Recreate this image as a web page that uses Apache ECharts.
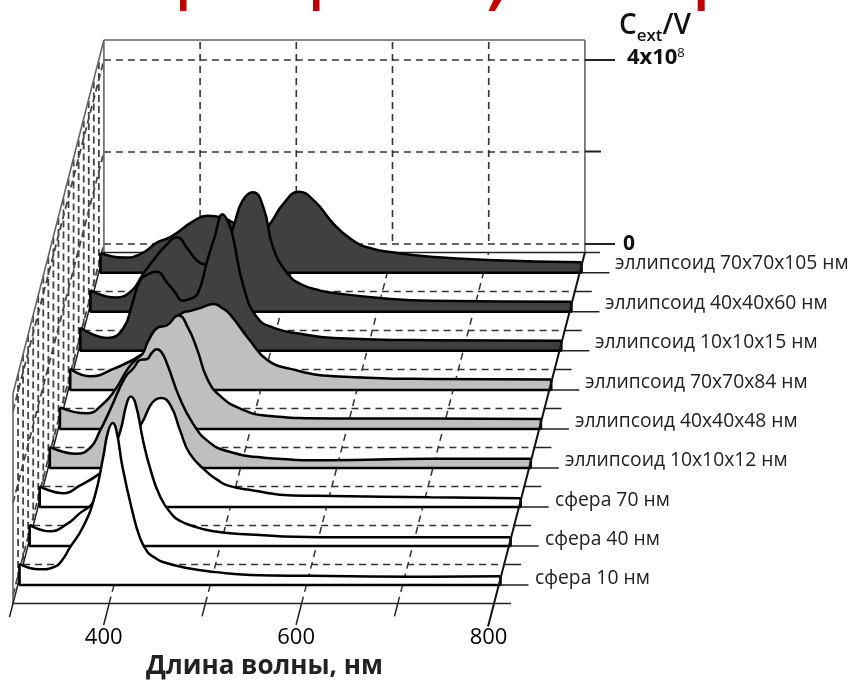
<!DOCTYPE html>
<html><head><meta charset="utf-8">
<style>html,body{margin:0;padding:0;background:#fff}#c{width:854px;height:685px}</style>
<script src="https://cdn.jsdelivr.net/npm/echarts@6/dist/echarts.min.js"></script>
</head><body><div id="c"></div>
<script>
// Data: wavelength (nm) and Cext/V (units of 1e8), front ribbon first
const ribbonNames = ['сфера 10 нм','сфера 40 нм','сфера 70 нм','эллипсоид 10x10x12 нм','эллипсоид 40x40x48 нм','эллипсоид 70x70x84 нм','эллипсоид 10x10x15 нм','эллипсоид 40x40x60 нм','эллипсоид 70x70x105 нм'];
const xTickLabels = [400,600,800];
const wlS10 = [300,321,337,345,352,366,378,387,392,397,401,407,417,425,433,441,449,474,505,540,602,727,800];
const valS10 = [.46,.34,.40,.56,.80,1.26,1.91,2.78,3.33,3.52,3.33,2.57,1.63,1.04,.72,.59,.50,.37,.28,.22,.20,.18,.19];
const wlS40 = [300,321,339,352,366,378,389,395,401,405,410,418,425,436,449,457,467,491,529,602,716,800];
const valS40 = [.46,.32,.48,.71,.95,1.64,2.18,2.55,3.10,3.25,3.10,2.29,1.71,1.06,.66,.54,.45,.32,.25,.19,.19,.19];
const wlS70 = [300,325,342,362,375,389,406,415,421,426,436,446,456,474,484,495,522,563,605,706,800];
const valS70 = [.45,.30,.47,.72,.97,1.34,1.82,2.21,2.34,2.37,2.21,1.66,1.16,.76,.60,.47,.36,.25,.24,.21,.19];
const wlE12 = [300,327,342,352,363,378,387,394,401,406,411,416,422,435,449,464,484,526,590,695,800];
const valE12 = [.46,.31,.44,.80,1.28,1.96,2.17,2.35,2.37,2.50,2.58,2.52,2.26,1.52,.96,.59,.37,.22,.17,.20,.20];
const wlE48 = [300,328,345,357,371,380,386,392,402,411,423,433,443,453,466,487,515,584,685,800];
const valE48 = [.47,.34,.55,.84,1.32,1.53,1.64,1.92,2.21,2.25,2.47,2.21,1.71,1.10,.73,.45,.29,.23,.23,.22];
const wlE84 = [300,321,345,375,388,402,416,425,435,449,458,466,487,505,529,574,674,800];
const valE84 = [.46,.30,.46,.78,1.07,1.39,1.67,1.72,1.78,1.87,1.78,1.65,1.07,.65,.46,.30,.24,.23];
const wlE15 = [300,329,345,354,362,371,379,391,399,406,414,422,432,440,448,454,458,470,484,501,529,563,664,800];
const valE15 = [.50,.28,.50,1.02,1.52,1.67,1.72,1.46,1.26,1.09,1.13,1.24,1.96,2.50,2.97,2.78,2.54,1.37,.72,.50,.37,.28,.23,.22];
const wlE60 = [300,326,343,355,369,378,390,401,411,419,430,440,449,458,469,480,490,505,518,539,553,601,654,800];
const valE60 = [.47,.31,.46,.83,1.22,1.43,1.62,1.37,1.11,1.04,1.07,1.35,1.87,2.41,2.60,2.26,1.39,.83,.61,.46,.41,.30,.24,.22];
const wlE105 = [300,324,342,359,373,397,411,427,438,456,466,477,490,506,522,542,560,578,605,643,703,800];
const valE105 = [.43,.33,.41,.66,.78,1.13,1.24,1.20,1.09,.95,.85,1.09,1.50,1.76,1.57,1.07,.74,.55,.44,.35,.28,.23];
const ribbonWl = [wlS10,wlS40,wlS70,wlE12,wlE48,wlE84,wlE15,wlE60,wlE105];
const ribbonVal = [valS10,valS40,valS70,valE12,valE48,valE84,valE15,valE60,valE105];
const ribbonFill = ['#ffffff','#ffffff','#ffffff','#bfbfbf','#bfbfbf','#bfbfbf','#404040','#404040','#404040'];

// Oblique projection of the box
const W = 481, PX = W/500, PY = 46, DX = 10.1, DY = 39;
const px = (l,d) => 13 + (l-300)*PX + DX*d;
const py = (d,v) => 603.5 - DY*d - (v||0)*PY;
const seg = (a,b) => [a,b,['-','-']];
const FF = '"Open Sans"';

const gray=[],dash=[],wallDash=[],thin=[];
gray.push(...seg([px(300,9),py(9)],[px(300,9),40]),...seg([px(300,9),40],[px(800,9),40]),...seg([px(800,9),40],[px(800,9),py(9)]));
thin.push(...seg([px(300,0),py(0)],[px(800,0)+17,py(0)]));
thin.push(...seg([px(300,9),py(9)],[px(800,9)+15,py(9)]));
for(let d=1;d<=8;d++){
  dash.push(...seg([px(300,d),py(d)],[px(800,d),py(d)]));
  thin.push(...seg([px(800,d),py(d)],[px(800,d)+17,py(d)]));
}
[400,500,600,700].forEach(l=>{
  dash.push(...seg([px(l,0),py(0)],[px(l,9),py(9)]));
  const e = (l===400||l===600)?-.55:-.33;
  thin.push(...seg([px(l,0),py(0)],[px(l,e),py(e)]));
  wallDash.push(...seg([px(l,9),42],[px(l,9),244]));
});
thin.push(...seg([px(300,0),py(0)],[px(300,-.35),py(-.35)]));
thin.push(...seg([px(300,0),py(0)],[px(300,9),py(9)]));
gray.push(...seg([13,py(0)],[13,py(0)-210]),...seg([13,py(0)-210],[px(300,9),40]));
const wallV=[];
for(let i=0;i<18;i++){
  const x=13+DX/2*i, d=i/2;
  if(i>0) wallV.push(...seg([x,py(d)-210],[x,py(d)]));
}
[0,2,4].forEach(v=>{ const off=244-v*PY-py(9); wallV.push(...seg([px(300,0),py(0)+off],[px(300,9),py(9)+off])); });
const vt=[...seg([px(800,9),60],[615,60]),...seg([px(800,9),244],[615,244]),...seg([px(800,9),151.5],[601,151.5])];

const slant=[[px(800,9),py(9)],[px(800,-.59),py(-.59)]];

const grids=[{left:0,top:0,width:854,height:685},{left:px(300,9),top:60,width:W,height:184},{left:7.5,top:py(0)-184,width:W,height:184}];
const xAxes=[{type:'value',gridIndex:0,min:0,max:854,show:false},
  {type:'value',gridIndex:1,min:300,max:800,show:false},
  {type:'value',gridIndex:2,min:300,max:800,interval:100,axisLine:{show:false},axisTick:{show:false},splitLine:{show:false},
   axisLabel:{margin:23,color:'#000',fontFamily:FF,fontSize:22,showMinLabel:true,showMaxLabel:true,formatter:v=>xTickLabels.includes(v)?String(v):''},
   name:'Длина волны, нм',nameLocation:'middle',nameGap:50,nameTextStyle:{fontFamily:FF,fontWeight:'bold',fontSize:26,color:'#222',padding:[0,0,0,33]}}];
const yAxes=[{type:'value',gridIndex:0,min:0,max:685,inverse:true,show:false},
  {type:'value',gridIndex:1,min:0,max:4,interval:2,position:'right',axisLine:{show:false},axisTick:{show:false},
   splitLine:{show:true,lineStyle:{color:'#333',width:1.6,type:[7,5]}},
   axisLabel:{margin:38,align:'left',formatter:v=>v===0?'{z|0}':v===4?'{a|4x10}{s|8}':'',
     rich:{z:{fontFamily:FF,fontWeight:'bold',fontSize:21,color:'#111'},a:{fontFamily:FF,fontWeight:'bold',fontSize:22,color:'#111',padding:[0,0,4,4]},s:{fontFamily:FF,fontSize:13,color:'#111',verticalAlign:'top'}}},
   name:'{c|C}{e|ext}{c|/V}',nameLocation:'end',nameGap:16,
   nameTextStyle:{align:'left',padding:[0,0,0,34],rich:{c:{fontFamily:FF,fontWeight:600,fontSize:28,color:'#111',lineHeight:36},e:{fontFamily:FF,fontWeight:600,fontSize:17,color:'#111',verticalAlign:'top',lineHeight:16,padding:[20,0,0,0]}}}},
  {type:'value',gridIndex:2,min:0,max:4,show:false}];
const lineSeries=(data,style,z)=>({type:'line',xAxisIndex:0,yAxisIndex:0,data,showSymbol:false,symbol:'none',silent:true,connectNulls:false,clip:false,z,lineStyle:style});
const series=[
  lineSeries(wallV,{color:'#444',width:1.8,type:[7,4]},1),
  lineSeries(gray,{color:'#666',width:1.6},2),
  lineSeries(thin,{color:'#222',width:1.5},2),
  lineSeries(dash,{color:'#333',width:1.5,type:[7,5]},2),
  lineSeries(wallDash,{color:'#333',width:1.6,type:[7,5]},2),
  lineSeries(vt,{color:'#222',width:1.8},2)
];
const graphics=[
  {type:'rect',shape:{x:180,y:0,width:6.5,height:11},style:{fill:'#c00000'}},
  {type:'rect',shape:{x:313,y:0,width:6.5,height:11},style:{fill:'#c00000'}},
  {type:'polygon',shape:{points:[[488.5,11],[495,11],[501.5,0],[493.5,0]]},style:{fill:'#c00000'}},
  {type:'rect',shape:{x:697.7,y:0,width:7,height:11},style:{fill:'#c00000'}}
];
const ticks=[];
ribbonNames.forEach((name,k)=>{
  const L=19.5+DX*k+ (k>4?0.2:0), B=585-39*k-(k>5?0.2:0);
  const g=grids.length, top=B-184;
  grids.push({left:L,top,width:W,height:184});
  xAxes.push({type:'value',gridIndex:g,min:300,max:800,show:false});
  yAxes.push({type:'value',gridIndex:g,min:0,max:4,show:false});
  const wl=ribbonWl[k], val=ribbonVal[k];
  const z=10+(8-k)*2;
  series.push({type:'line',name,xAxisIndex:g,yAxisIndex:g,data:wl.map((l,i)=>[l,val[i]]),smooth:.5,showSymbol:false,symbol:'none',clip:false,silent:true,z,
    lineStyle:{color:'#000',width:2.5},areaStyle:{color:ribbonFill[k],opacity:1,origin:'start'}});
  series.push({type:'line',xAxisIndex:g,yAxisIndex:g,data:[[300,val[0]],[300,0],[800,0],[800,val[val.length-1]]],showSymbol:false,symbol:'none',clip:false,silent:true,z:z+1,
    lineStyle:{color:'#000',width:2.6}});
  ticks.push(...seg([L+W,B],[L+W+28,B]));
  graphics.push({type:'text',x:535+10*k,y:B-6-k*.37,style:{text:name,fontFamily:FF,fontSize:19.3,fill:'#222',verticalAlign:'middle',align:'left'},z:50});
});
series.push(lineSeries(slant,{color:'#111',width:2},40));
series.push(lineSeries(ticks,{color:'#222',width:1.6},40));

const chart=echarts.init(document.getElementById('c'),null,{renderer:'canvas'});
chart.setOption({animation:false,backgroundColor:'#fff',grid:grids,xAxis:xAxes,yAxis:yAxes,series,graphic:graphics});
</script></body></html>
